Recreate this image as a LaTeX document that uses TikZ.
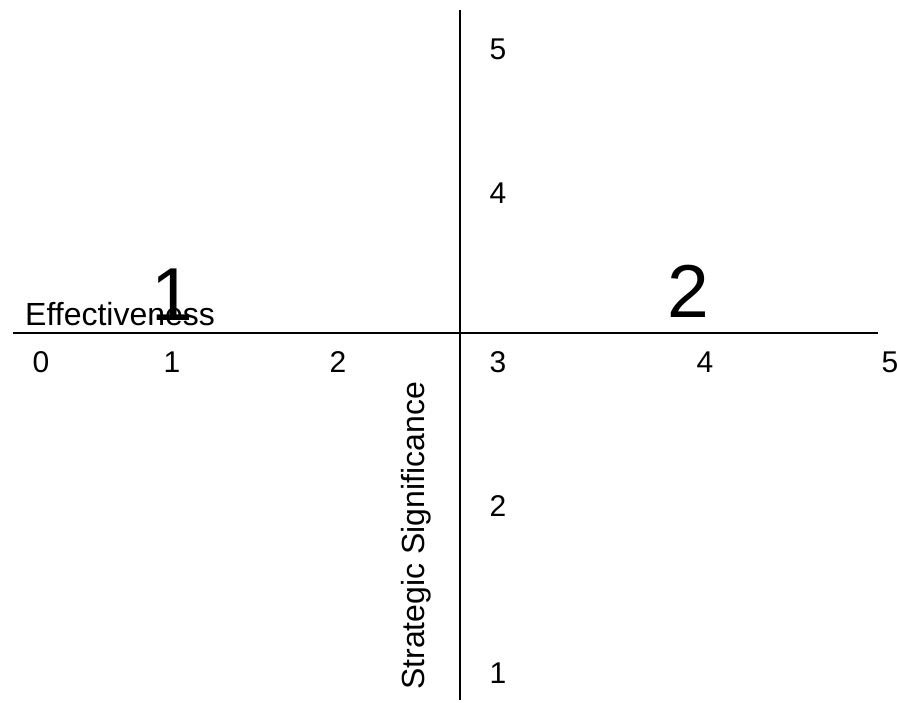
\documentclass[tikz,border=0pt]{standalone}
\usepackage{fontspec}
\setmainfont{Liberation Sans}
\usetikzlibrary{positioning}
\tikzset{
    axisline/.style={draw=black,line width=1.5pt},
    ticklabel/.style={inner sep=0pt,font=\fontsize{30}{34}\selectfont},
    axislabel/.style={inner sep=0pt,font=\fontsize{32}{36}\selectfont},
    quadnum/.style={inner sep=0pt,font=\fontsize{75}{84}\selectfont}
}
\begin{document}
\begin{tikzpicture}[x=1pt,y=-1pt]
    \useasboundingbox (0,0) rectangle (897,702);
    \coordinate (hleft) at (13,333);
    \coordinate (hright) at (878,333);
    \coordinate (vtop) at (460,10);
    \coordinate (vbot) at (460,700);
    \draw[axisline] (hleft) -- (hright);
    \draw[axisline] (vtop) -- (vbot);
    % tick labels
    \foreach \lab/\xx in {0/41,1/172,2/338,4/705,5/890}
        \node[ticklabel] (hx\lab) at (\xx,362) {\lab};
    \foreach \lab/\yy in {5/49,4/193,3/362,2/506,1/673}
        \node[ticklabel] (vy\lab) at (498,\yy) {\lab};
    % axis titles
    \node[axislabel,anchor=base west] (efflab) at (25,325) {Effectiveness};
    \node[axislabel,anchor=base west,rotate=90] (siglab) at (424,690) {Strategic Significance};
    % quadrants
    \node[quadnum,anchor=base] (qone) at (172,320) {1};
    \node[quadnum,anchor=base] (qtwo) at (688,317) {2};
\end{tikzpicture}
\end{document}
